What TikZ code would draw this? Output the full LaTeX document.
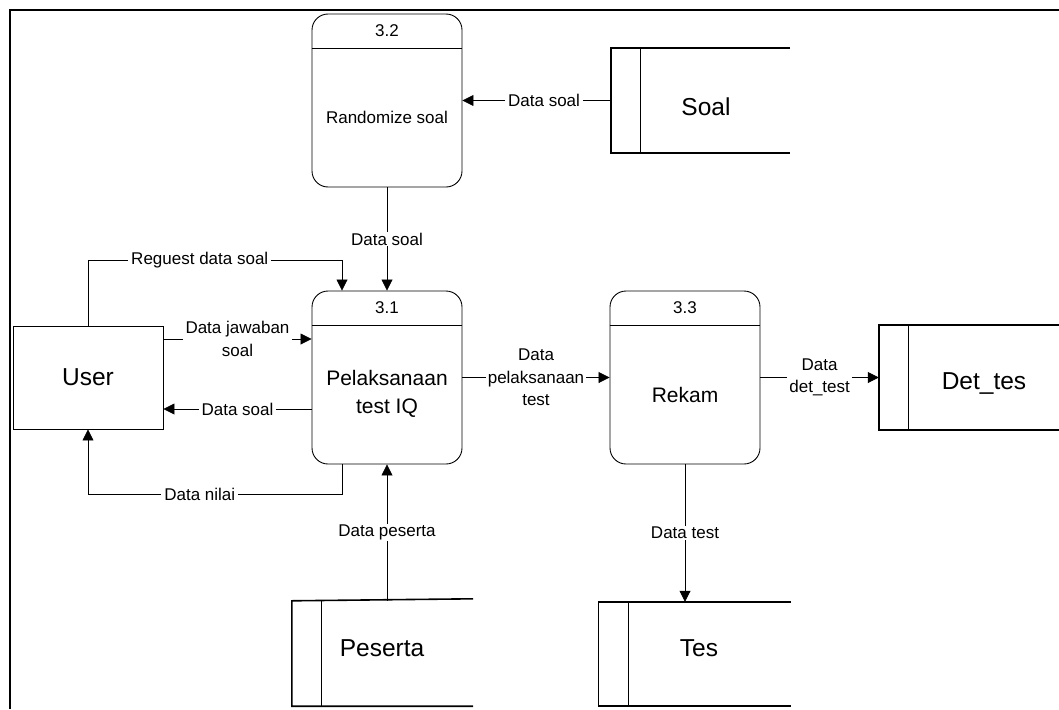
\documentclass[tikz,border=0pt]{standalone}
\usepackage{fontspec}
\setmainfont{Liberation Sans}
\usetikzlibrary{arrows.meta,calc}
\newcommand{\lblfont}{\fontsize{17pt}{22.5pt}\selectfont}
\newcommand{\procfont}{\fontsize{21pt}{28pt}\selectfont}
\newcommand{\bigfont}{\fontsize{24.5pt}{29pt}\selectfont}
\begin{document}
\begin{tikzpicture}[x=1pt,y=-1pt,
  proc/.style={draw, line width=0.9pt, rounded corners=16pt, minimum width=150pt, minimum height=173pt, inner sep=0pt},
  ent/.style={draw, line width=0.9pt, minimum width=150pt, minimum height=103pt, inner sep=0pt},
  store/.style={inner sep=0pt},
  storeline/.style={line width=1.6pt},
  storeinner/.style={line width=1.1pt},
  flow/.style={line width=0.8pt, -{Triangle[length=11pt,width=11pt]}},
  lbl/.style={fill=white, inner xsep=3pt, inner ysep=1pt, font=\lblfont, align=center},
  idtxt/.style={font=\lblfont, inner sep=0pt},
  ptxt/.style={inner sep=0pt, align=center},
  stxt/.style={font=\bigfont, inner sep=0pt}]
\useasboundingbox (0,0) rectangle (1059,709);
% frame
\draw[line width=2pt] (10,709) -- (10,10) -- (1059,10);
% processes
\node[proc] (p32) at (387,100.5) {};
\node[proc] (p31) at (387,377.5) {};
\node[proc] (p33) at (685,377.5) {};
\foreach \p/\n in {p32/3.2, p31/3.1, p33/3.3}{
  \draw[line width=0.9pt] ([yshift=-35pt]\p.north west) -- ([yshift=-35pt]\p.north east);
  \node[idtxt] (\p id) at ([yshift=-17pt]\p.north) {\n};
}
\node[ptxt, font=\lblfont] (p32t) at ([yshift=-16.5pt]p32.center) {Randomize soal};
\node[ptxt, font=\procfont] (p31t) at ([yshift=-16.5pt]p31.center) {Pelaksanaan\\test IQ};
\node[ptxt, font=\procfont] (p33t) at ([yshift=-17.5pt]p33.center) {Rekam};
% external entity
\node[ent, font=\bigfont] (user) at (88,377.5) {User};
% data stores
\node[store, minimum width=179pt, minimum height=105pt] (soal) at (700.5,100.5) {};
\node[store, minimum width=181pt, minimum height=105pt] (pes) at (382.5,653.5) {};
\node[store, minimum width=192.5pt, minimum height=104pt] (tes) at (694.75,654) {};
\node[store, minimum width=200pt, minimum height=105pt] (det) at (979,377.5) {};
\foreach \s in {soal, tes, det}{
  \draw[storeline] (\s.north east) -- (\s.north west) -- (\s.south west) -- (\s.south east);
  \draw[storeinner] ([xshift=30pt]\s.north west) -- ([xshift=30pt]\s.south west);
}
\draw[storeline] ([yshift=2pt]pes.north east) -- (pes.north west) -- (pes.south west) -- (pes.south east);
\draw[storeinner] ([xshift=30pt]pes.north west) -- ([xshift=30pt]pes.south west);
\node[stxt] (soalt) at (706,107) {Soal};
\node[stxt] (pest) at (382,648) {Peserta};
\node[stxt] (test) at (699,648) {Tes};
\node[stxt] (dett) at (984,384) {Det\_tes};
% flows
\draw[flow] (soal.west) -- (soal.west -| p32.east) node[lbl, pos=0.45] {Data soal};
\draw[flow] (p32.south) -- (p31.north) node[lbl, midway] {Data soal};
\draw[flow] (user.north) -- ++(0,-65) -| node[lbl, pos=0.22] {Reguest data soal} ([xshift=-45pt]p31.north);
\draw[flow] ([yshift=38.5pt]user.east) -- ([yshift=38.5pt]user.east -| p31.west) node[lbl, midway] {Data jawaban\\soal};
\draw[flow] ([yshift=-31.5pt]user.east -| p31.west) -- ([yshift=-31.5pt]user.east) node[lbl, midway] {Data soal};
\draw[flow] ([xshift=-45pt]p31.south) -- ++(0,30) -| node[lbl, pos=0.28] {Data nilai} (user.south);
\draw[flow] (pes.north -| p31.south) -- (p31.south) node[lbl, midway] {Data peserta};
\draw[flow] (p31.east) -- (p33.west) node[lbl, midway, inner xsep=2pt] {Data\\pelaksanaan\\test};
\draw[flow] (p33.east) -- (det.west |- p33.east) node[lbl, midway, inner xsep=2pt] {Data\\det\_test};
\draw[flow] (p33.south) -- (tes.north -| p33.south) node[lbl, midway] {Data test};
\end{tikzpicture}
\end{document}
